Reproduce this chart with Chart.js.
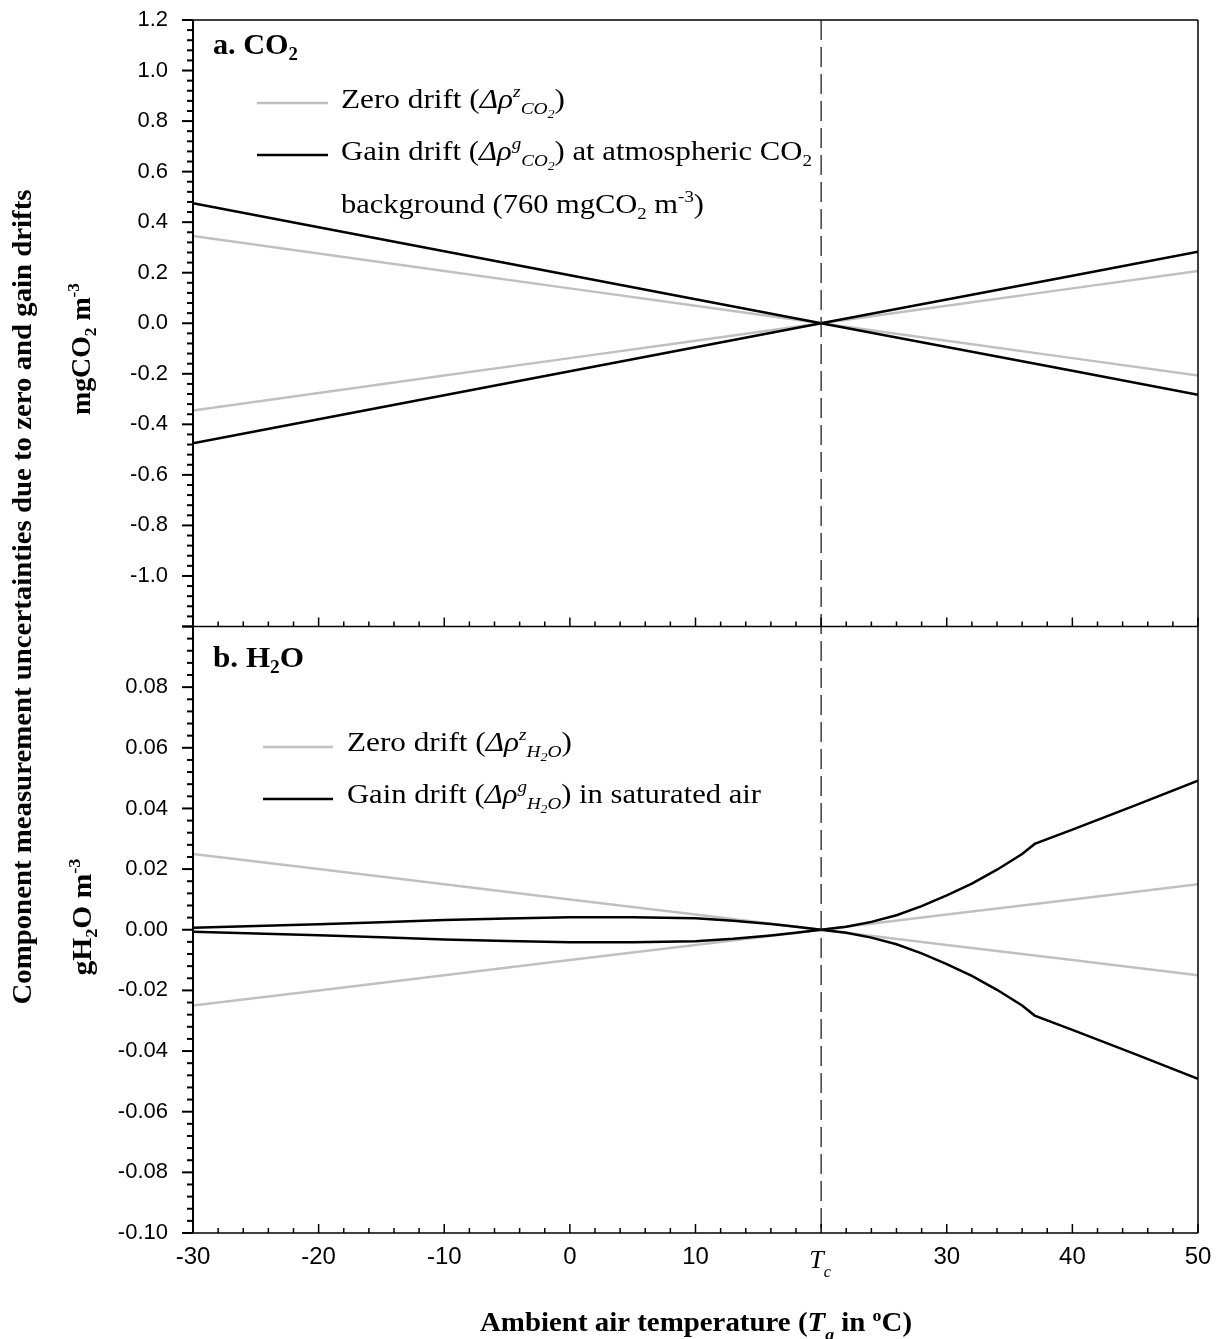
<!DOCTYPE html>
<html>
<head>
<meta charset="utf-8">
<script src="https://cdn.jsdelivr.net/npm/chart.js@4.4.1/dist/chart.umd.min.js"></script>
<style>
  html, body { margin: 0; padding: 0; background: #fff; }
  #wrap { width: 1219px; height: 1339px; position: relative; }
</style>
</head>
<body>
<div id="wrap"><canvas id="driftChart"></canvas></div>
<script>
// temperatures (°C) where the straight drift lines were read
const temps = [-30, -20, -10, 0, 10, 20, 30, 40, 50];
const co2ZeroA = [0.345, 0.276, 0.207, 0.138, 0.069, 0, -0.069, -0.138, -0.207];
const co2ZeroB = [-0.345, -0.276, -0.207, -0.138, -0.069, 0, 0.069, 0.138, 0.207];
const co2GainA = [0.475, 0.380, 0.285, 0.190, 0.095, 0, -0.094, -0.188, -0.283];
const co2GainB = [-0.475, -0.380, -0.285, -0.190, -0.095, 0, 0.094, 0.188, 0.283];
const h2oZeroA = [0.025, 0.020, 0.015, 0.010, 0.005, 0, -0.005, -0.010, -0.015];
const h2oZeroB = [-0.025, -0.020, -0.015, -0.010, -0.005, 0, 0.005, 0.010, 0.015];

// gain drift of H2O in saturated air (curved, read at more points)
const tempsGainH2o = [-30, -25, -20, -15, -10, -5, 0, 5, 10, 13, 16, 18, 20, 22, 24, 26, 28, 30, 32, 34, 36, 37, 40, 45, 50];
const h2oGainPos = [0.0007, 0.0012, 0.0018, 0.0025, 0.0032, 0.0037, 0.0041, 0.0041, 0.0038, 0.0030, 0.0019, 0.0010, 0,
  0.0010, 0.0026, 0.0048, 0.0078, 0.0113, 0.0152, 0.0198, 0.0250, 0.0283, 0.0330, 0.0410, 0.0492];
const h2oGainNeg = [-0.0007, -0.0012, -0.0018, -0.0025, -0.0032, -0.0037, -0.0041, -0.0041, -0.0038, -0.0030, -0.0019, -0.0010, 0,
  -0.0010, -0.0026, -0.0048, -0.0078, -0.0113, -0.0152, -0.0198, -0.0250, -0.0283, -0.0330, -0.0410, -0.0492];

// tick labels
const xTicks = [-30, -20, -10, 0, 10, 20, 30, 40, 50];
const tcTemp = 20;
const co2Ticks = [1.2, 1.0, 0.8, 0.6, 0.4, 0.2, 0.0, -0.2, -0.4, -0.6, -0.8, -1.0];
const h2oTicks = [0.08, 0.06, 0.04, 0.02, 0.00, -0.02, -0.04, -0.06, -0.08, -0.10];

const serif = '"Liberation Serif", "Times New Roman", serif';
const sans = '"Liberation Sans", Arial, sans-serif';
const black = '#000000';
const gray = '#c0c0c0';

function pts(xs, ys) {
  return xs.map((x, i) => ({ x: x, y: ys[i] }));
}

// small rich-text helper: parts = [{t, i, b, s: 'sup'|'sub'|'sub2'|'low'}]
function layoutRich(ctx, parts, size, bold) {
  let w = 0;
  const items = parts.map(p => {
    let s = size, dy = 0;
    if (p.s === 'sup') { s = size * 0.62; dy = -size * 0.38; }
    else if (p.s === 'sub') { s = size * 0.62; dy = size * 0.2; }
    else if (p.s === 'sub2') { s = size * 0.45; dy = size * 0.36; }
    else if (p.s === 'low') { s = size * 0.62; dy = size * 0.33; }
    const b = p.b !== undefined ? p.b : bold;
    const font = (p.i ? 'italic ' : '') + (b ? 'bold ' : '') + s.toFixed(1) + 'px ' + serif;
    ctx.font = font;
    const it = { t: p.t, font: font, dx: w, dy: dy };
    w += ctx.measureText(p.t).width;
    return it;
  });
  return { items: items, width: w };
}

function drawRich(ctx, parts, x, y, size, opts) {
  opts = opts || {};
  const lay = layoutRich(ctx, parts, size, !!opts.bold);
  const sx = opts.fit ? opts.fit / lay.width : 1;
  const w = lay.width * sx;
  ctx.save();
  ctx.translate(x, y);
  if (opts.rotate) ctx.rotate(opts.rotate);
  const x0 = opts.align === 'center' ? -w / 2 : (opts.align === 'right' ? -w : 0);
  ctx.translate(x0, 0);
  ctx.scale(sx, 1);
  ctx.fillStyle = '#000';
  ctx.textAlign = 'left';
  ctx.textBaseline = 'alphabetic';
  lay.items.forEach(it => {
    ctx.font = it.font;
    ctx.fillText(it.t, it.dx, it.dy);
  });
  ctx.restore();
}

function line(ctx, x1, y1, x2, y2) {
  ctx.beginPath();
  ctx.moveTo(x1, y1);
  ctx.lineTo(x2, y2);
  ctx.stroke();
}

// frame, inner/outer ticks and the Tc marker line
const framePlugin = {
  id: 'framePlugin',
  afterDatasetsDraw(chart) {
    const ctx = chart.ctx;
    const xs = chart.scales.x;
    const ya = chart.scales.yCO2;
    const yb = chart.scales.yH2O;
    const L = chart.chartArea.left, R = chart.chartArea.right;
    const T = ya.top, M = ya.bottom, B = yb.bottom;
    ctx.save();

    // Tc dashed line
    ctx.lineWidth = 1.3;
    ctx.strokeStyle = '#222';
    ctx.setLineDash([20, 7]);
    const xc = xs.getPixelForValue(tcTemp);
    line(ctx, xc, T, xc, B);
    ctx.setLineDash([]);
    ctx.strokeStyle = '#000';

    // frame
    ctx.lineWidth = 1.5;
    line(ctx, L, T, R, T);
    line(ctx, R, T, R, B);
    line(ctx, L, M, R, M);
    line(ctx, L, B, R, B);
    ctx.lineWidth = 2;
    line(ctx, L, T, L, B);

    // x ticks pointing inward, at bottom of each panel
    ctx.lineWidth = 1.5;
    for (let v = -30; v <= 50; v += 2) {
      const px = xs.getPixelForValue(v);
      const len = v % 10 === 0 ? 9 : 5;
      line(ctx, px, B, px, B - len);
      line(ctx, px, M, px, M - len);
    }
    // y ticks pointing outward
    ctx.lineWidth = 2;
    for (let i = -30; i <= 30; i++) {
      const py = ya.getPixelForValue(i * 0.04);
      line(ctx, L, py, L - (i % 5 === 0 ? 11 : 6), py);
    }
    for (let i = -25; i <= 25; i++) {
      const py = yb.getPixelForValue(i * 0.004);
      line(ctx, L, py, L - (i % 5 === 0 ? 11 : 6), py);
    }
    ctx.restore();
  },
  afterDraw(chart) {
    const ctx = chart.ctx;
    const xs = chart.scales.x;
    ctx.save();

    // Tc tick label
    const xc = xs.getPixelForValue(tcTemp);
    drawRich(ctx, [{ t: 'T', i: true }, { t: 'c', i: true, s: 'low' }], xc - 1, 1268, 26, { align: 'center' });

    // panel labels
    drawRich(ctx, [{ t: 'a. CO' }, { t: '2', s: 'sub' }], 213, 54, 29, { bold: true, fit: 85 });
    drawRich(ctx, [{ t: 'b. H' }, { t: '2', s: 'sub' }, { t: 'O' }], 213, 667, 29, { bold: true, fit: 91 });

    // legend samples
    ctx.lineWidth = 2.5;
    ctx.strokeStyle = gray;
    line(ctx, 257, 103, 328, 103);
    line(ctx, 263, 747, 333, 747);
    ctx.strokeStyle = black;
    line(ctx, 257, 155, 328, 155);
    line(ctx, 263, 799, 333, 799);

    // legend texts
    const lf = 28;
    drawRich(ctx, [{ t: 'Zero drift (' }, { t: 'Δρ', i: true }, { t: 'z', i: true, s: 'sup' },
      { t: 'CO', i: true, s: 'sub' }, { t: '2', i: true, s: 'sub2' }, { t: ')' }], 341, 108, lf, { fit: 224 });
    drawRich(ctx, [{ t: 'Gain drift (' }, { t: 'Δρ', i: true }, { t: 'g', i: true, s: 'sup' },
      { t: 'CO', i: true, s: 'sub' }, { t: '2', i: true, s: 'sub2' }, { t: ') at atmospheric CO' }, { t: '2', s: 'sub' }],
      341, 160, lf, { fit: 471 });
    drawRich(ctx, [{ t: 'background (760 mgCO' }, { t: '2', s: 'sub' }, { t: ' m' }, { t: '-3', s: 'sup' }, { t: ')' }],
      341, 213, lf, { fit: 363 });
    drawRich(ctx, [{ t: 'Zero drift (' }, { t: 'Δρ', i: true }, { t: 'z', i: true, s: 'sup' },
      { t: 'H', i: true, s: 'sub' }, { t: '2', i: true, s: 'sub2' }, { t: 'O', i: true, s: 'sub' }, { t: ')' }],
      347, 751, lf, { fit: 225 });
    drawRich(ctx, [{ t: 'Gain drift (' }, { t: 'Δρ', i: true }, { t: 'g', i: true, s: 'sup' },
      { t: 'H', i: true, s: 'sub' }, { t: '2', i: true, s: 'sub2' }, { t: 'O', i: true, s: 'sub' }, { t: ') in saturated air' }],
      347, 803, lf, { fit: 414 });

    // axis titles
    const up = -Math.PI / 2;
    drawRich(ctx, [{ t: 'Component measurement uncertainties due to zero and gain drifts' }],
      31, 597, 28, { bold: true, align: 'center', rotate: up, fit: 815 });
    drawRich(ctx, [{ t: 'mgCO' }, { t: '2', s: 'sub' }, { t: ' m' }, { t: '-3', s: 'sup' }],
      90, 349, 28, { bold: true, align: 'center', rotate: up, fit: 132 });
    drawRich(ctx, [{ t: 'gH' }, { t: '2', s: 'sub' }, { t: 'O m' }, { t: '-3', s: 'sup' }],
      91, 917, 28, { bold: true, align: 'center', rotate: up, fit: 117 });
    drawRich(ctx, [{ t: 'Ambient air temperature (' }, { t: 'T', i: true }, { t: 'a', i: true, s: 'low' },
      { t: ' in ' }, { t: 'o', s: 'sup' }, { t: 'C)' }], 696, 1331, 27, { bold: true, align: 'center', fit: 432 });
    ctx.restore();
  }
};

const lineStyle = { borderWidth: 2.5, pointRadius: 0, tension: 0, fill: false };

function yFit(s) {
  s.width = 193;
  s.paddingTop = 0;
  s.paddingBottom = 0;
}

const ctx = document.getElementById('driftChart').getContext('2d');
const driftChart = new Chart(ctx, {
  type: 'line',
  data: {
    datasets: [
      { ...lineStyle, data: pts(temps, co2GainA), yAxisID: 'yCO2', borderColor: black },
      { ...lineStyle, data: pts(temps, co2GainB), yAxisID: 'yCO2', borderColor: black },
      { ...lineStyle, data: pts(tempsGainH2o, h2oGainPos), yAxisID: 'yH2O', borderColor: black },
      { ...lineStyle, data: pts(tempsGainH2o, h2oGainNeg), yAxisID: 'yH2O', borderColor: black },
      { ...lineStyle, data: pts(temps, co2ZeroA), yAxisID: 'yCO2', borderColor: gray },
      { ...lineStyle, data: pts(temps, co2ZeroB), yAxisID: 'yCO2', borderColor: gray },
      { ...lineStyle, data: pts(temps, h2oZeroA), yAxisID: 'yH2O', borderColor: gray },
      { ...lineStyle, data: pts(temps, h2oZeroB), yAxisID: 'yH2O', borderColor: gray }
    ]
  },
  options: {
    responsive: true,
    maintainAspectRatio: false,
    animation: false,
    layout: { padding: { top: 20, right: 21, left: 0, bottom: 0 } },
    plugins: {
      legend: { display: false },
      tooltip: { enabled: false }
    },
    scales: {
      x: {
        type: 'linear',
        min: -30,
        max: 50,
        afterBuildTicks: s => { s.ticks = xTicks.map(v => ({ value: v })); },
        afterFit: s => { s.height = 106; s.paddingLeft = 0; s.paddingRight = 0; },
        ticks: {
          callback: v => (v === tcTemp ? '' : String(v)),
          padding: 10,
          maxRotation: 0,
          autoSkip: false,
          color: '#000',
          font: { family: sans, size: 24 }
        },
        grid: { display: false, drawTicks: false },
        border: { display: false }
      },
      yH2O: {
        type: 'linear',
        position: 'left',
        stack: 'panels',
        stackWeight: 1,
        weight: 1,
        min: -0.1,
        max: 0.1,
        afterBuildTicks: s => { s.ticks = h2oTicks.map(v => ({ value: v })); },
        afterFit: yFit,
        ticks: {
          callback: v => v.toFixed(2),
          padding: 25,
          color: '#000',
          font: { family: sans, size: 22 }
        },
        grid: { display: false, drawTicks: false },
        border: { display: false }
      },
      yCO2: {
        type: 'linear',
        position: 'left',
        stack: 'panels',
        stackWeight: 1,
        weight: 2,
        min: -1.2,
        max: 1.2,
        afterBuildTicks: s => { s.ticks = co2Ticks.map(v => ({ value: v })); },
        afterFit: yFit,
        ticks: {
          callback: v => v.toFixed(1),
          padding: 25,
          color: '#000',
          font: { family: sans, size: 22 }
        },
        grid: { display: false, drawTicks: false },
        border: { display: false }
      }
    }
  },
  plugins: [framePlugin]
});
</script>
</body>
</html>
